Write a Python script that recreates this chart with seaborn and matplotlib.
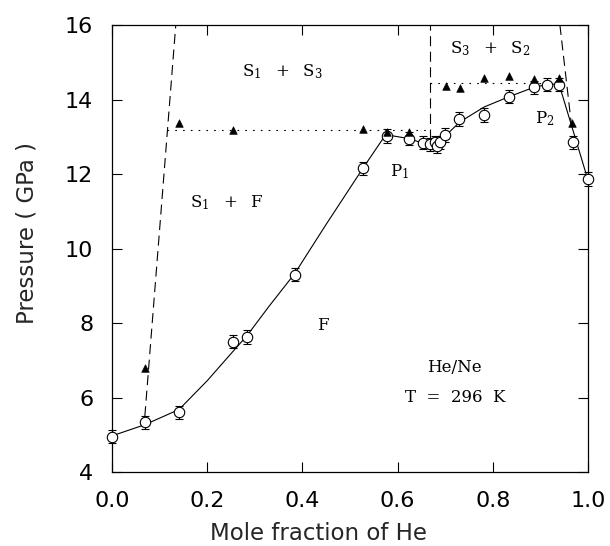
import matplotlib
matplotlib.use("Agg")
import matplotlib.pyplot as plt
import seaborn as sns

# measured points (open circles with error bars)
he_frac = [0.0, 0.069, 0.141, 0.255, 0.283, 0.384, 0.528, 0.577, 0.624, 0.654,
           0.668, 0.678, 0.683, 0.690, 0.700, 0.729, 0.782, 0.835, 0.887, 0.913,
           0.939, 0.969, 0.999]
p_meas = [4.95, 5.33, 5.60, 7.50, 7.62, 9.30, 12.15, 13.02, 12.95, 12.84,
          12.80, 12.85, 12.75, 12.85, 13.05, 13.48, 13.58, 14.08, 14.33, 14.40,
          14.40, 12.85, 11.87]
p_err = [0.18] * len(he_frac)

# solid triangles
tri_x = [0.069, 0.141, 0.255, 0.528, 0.578, 0.624, 0.702, 0.731, 0.782, 0.835,
         0.887, 0.939, 0.967]
tri_p = [6.80, 13.38, 13.17, 13.21, 13.14, 13.14, 14.36, 14.32, 14.57, 14.64,
         14.56, 14.58, 13.36]

# solid guide curve
fit_x = [0.0, 0.069, 0.141, 0.2, 0.255, 0.283, 0.33, 0.384, 0.45, 0.528, 0.572,
         0.578, 0.624, 0.655, 0.68, 0.70, 0.731, 0.782, 0.835, 0.887, 0.913,
         0.939, 0.999]
fit_p = [4.97, 5.27, 5.68, 6.45, 7.25, 7.65, 8.45, 9.33, 10.65, 12.17, 13.0,
         13.05, 12.95, 12.82, 12.82, 13.02, 13.4, 13.8, 14.08, 14.33, 14.4,
         14.42, 11.88]

# phase boundaries
left_x, left_p = [0.069, 0.134], [5.5, 16.0]
mid_x, mid_p = [0.668, 0.668], [12.95, 16.0]
right_x, right_p = [0.941, 0.965], [16.0, 13.35]
low_x, low_p = [0.116, 0.668], [13.18, 13.18]
high_x, high_p = [0.668, 0.948], [14.43, 14.43]

sns.set_style("ticks")
plt.rcParams['mathtext.fontset'] = 'dejavuserif'

fig = plt.figure(figsize=(6.1, 5.46), dpi=100)
ax = fig.add_axes([0.1836, 0.1355, 0.7803, 0.8187])

sns.lineplot(x=fit_x, y=fit_p, ax=ax, color='black', lw=0.8, sort=False,
             estimator=None)
ax.errorbar(he_frac, p_meas, yerr=p_err, fmt='o', mfc='white', mec='black',
            ms=7.5, mew=0.8, ecolor='black', elinewidth=0.8, capsize=3.2,
            capthick=0.8, zorder=3, clip_on=False)
sns.scatterplot(x=tri_x, y=tri_p, ax=ax, marker='^', color='black', s=30,
                edgecolor='black', zorder=4)

for bx, bp in [(left_x, left_p), (mid_x, mid_p), (right_x, right_p)]:
    ax.plot(bx, bp, color='black', lw=0.8, dashes=(9, 5))
for bx, bp in [(low_x, low_p), (high_x, high_p)]:
    ax.plot(bx, bp, color='black', lw=0.8, dashes=(1.5, 5.5))

tf = dict(family='DejaVu Serif', fontsize=12, color='black')
ax.text(0.273, 14.63, r'$\mathregular{S_1\ \ +\ \ S_3}$', **tf)
ax.text(0.164, 11.11, r'$\mathregular{S_1\ \ +\ \ F}$', **tf)
ax.text(0.431, 7.81, 'F', **tf)
ax.text(0.584, 11.93, r'$\mathregular{P_1}$', **tf)
ax.text(0.71, 15.24, r'$\mathregular{S_3\ \ +\ \ S_2}$', **tf)
ax.text(0.889, 13.37, r'$\mathregular{P_2}$', **tf)
ax.text(0.719, 6.69, 'He/Ne', ha='center', **tf)
ax.text(0.722, 5.89, 'T  =  296  K', ha='center', **tf)

ax.set_xlim(0, 1.0)
ax.set_ylim(4, 16)
ax.set_xticks([0.0, 0.2, 0.4, 0.6, 0.8, 1.0])
ax.set_xticklabels(['0.0', '0.2', '0.4', '0.6', '0.8', '1.0'])
ax.set_yticks([4, 6, 8, 10, 12, 14, 16])
ax.tick_params(direction='in', length=7, width=0.8, top=True, right=True,
               labelsize=16, pad=13.5, colors='black')
for s in ax.spines.values():
    s.set_linewidth(0.9)
    s.set_color('black')

ax.set_xlabel('Mole fraction of He', fontsize=16.5)
ax.set_ylabel('Pressure ( GPa )', fontsize=16.5)
ax.xaxis.set_label_coords(0.433, -0.112)
ax.yaxis.set_label_coords(-0.155, 0.535)

plt.savefig('out.png', dpi=100)
